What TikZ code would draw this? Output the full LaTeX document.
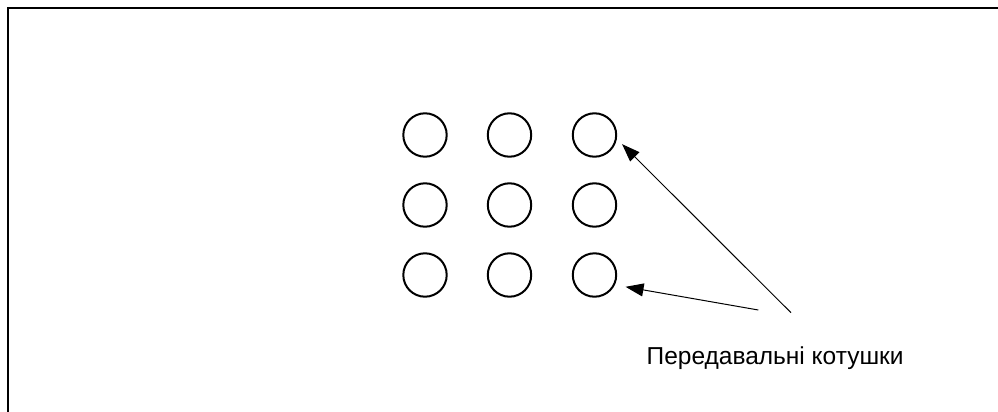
\documentclass[tikz,border=0pt]{standalone}
\usepackage{fontspec}
\setmainfont{Liberation Sans}
\usetikzlibrary{arrows.meta}
\begin{document}
\begin{tikzpicture}[x=1pt,y=-1pt,
  coil/.style={draw=black,line width=2pt,circle,minimum size=43.4pt,inner sep=0pt},
  pointer/.style={draw=black,line width=1pt,-{Triangle[length=18pt,width=13pt]}},
  frame/.style={draw=black,line width=2.5pt},
  caption/.style={font=\fontsize{24.5pt}{29pt}\selectfont,anchor=base west,inner sep=0pt}]
\useasboundingbox (0,0) rectangle (998,412);
% open frame: top and left edges only
\draw[frame] (8,413) -- (8,8) -- (999,8);
% 3x3 grid of transmitting coils
\foreach \r/\y in {1/135,2/205,3/275}
  \foreach \c/\x in {1/425,2/509.5,3/594.5}
    \node[coil] (c\r\c) at (\x,\y) {};
% label and its leader lines
\node[caption] (lbl) at (646.5,364) {Передавальні котушки};
\coordinate (t1) at (791,312.7);
\coordinate (t2) at (758.3,310);
\draw[pointer,shorten >=7.4pt] (t1) -- (c13.-10.3);
\draw[pointer,shorten >=10.8pt] (t2) -- (c33.-26.5);
\end{tikzpicture}
\end{document}
